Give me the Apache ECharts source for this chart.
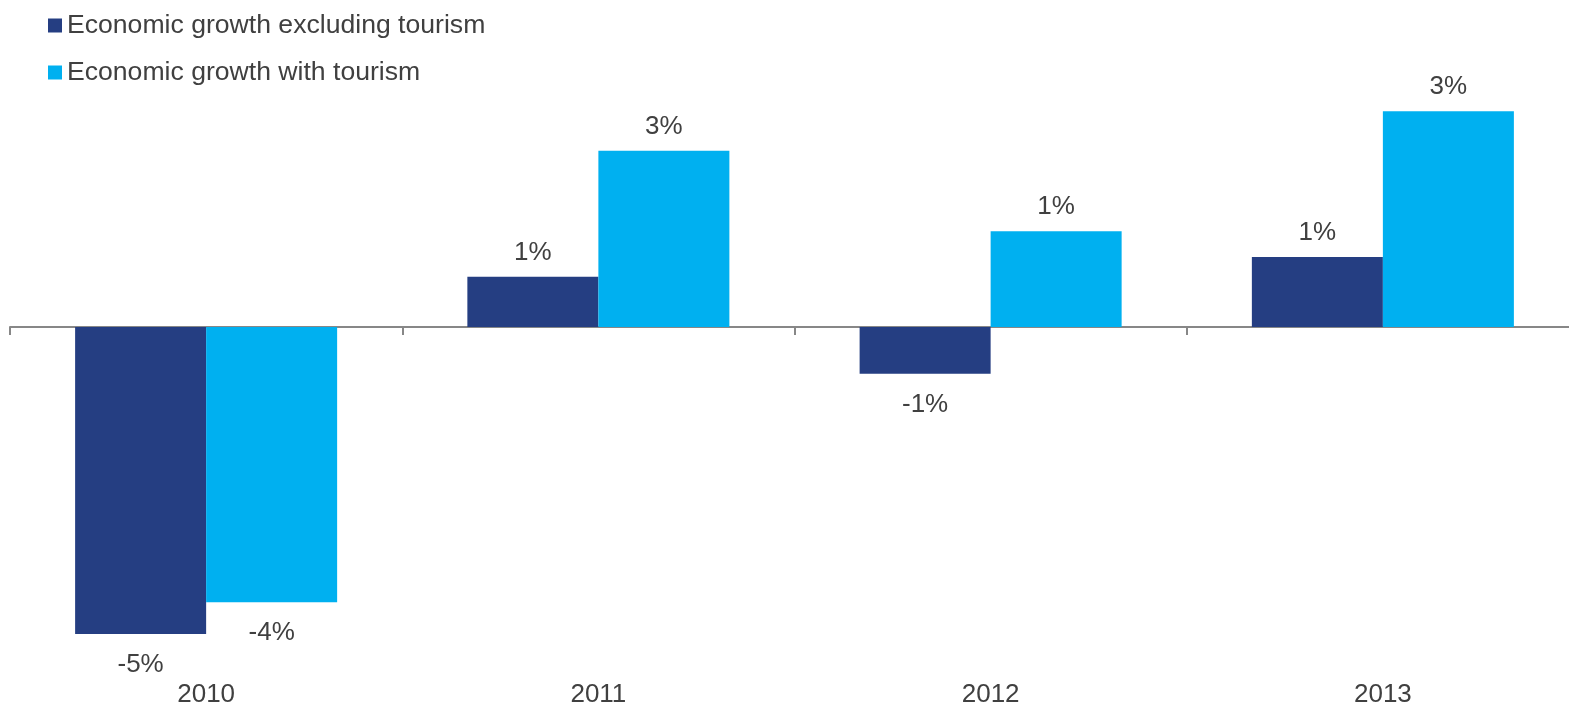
<!DOCTYPE html>
<html><head><meta charset="utf-8">
<script src="https://cdn.jsdelivr.net/npm/echarts@6/dist/echarts.min.js"></script>
<style>html,body{margin:0;padding:0;background:#fff}#c{width:1569px;height:709px}</style>
</head><body><div id="c"></div>
<script>
const categories = ['2010', '2011', '2012', '2013'];
const seriesNames = ['Economic growth excluding tourism', 'Economic growth with tourism'];
const excludingTourism = [-4.65, 0.76, -0.71, 1.06];
const withTourism = [-4.17, 2.67, 1.45, 3.27];

const FONT = 'Liberation Sans, Arial, sans-serif';
const TXT = '#404040';
function toData(arr) {
  return arr.map(v => ({
    value: v,
    label: v < 0 ? { position: 'bottom', distance: 18 } : { position: 'top', distance: 11 }
  }));
}
const chart = echarts.init(document.getElementById('c'), null, { renderer: 'canvas' });
chart.setOption({
  animation: false,
  color: ['#253E82', '#00B0F0'],
  textStyle: { fontFamily: FONT },
  legend: {
    orient: 'vertical', left: 43, top: 7,
    itemWidth: 14, itemHeight: 14, itemGap: 20,
    icon: 'rect',
    textStyle: { fontSize: 26.6, color: TXT, fontFamily: FONT },
    data: seriesNames
  },
  grid: { left: 10, width: 1569, top: 96, bottom: 52, containLabel: false, outerBoundsMode: 'none' },
  xAxis: [
    {
      type: 'category', data: categories, position: 'bottom',
      axisLine: { show: false, onZero: false }, axisTick: { show: false },
      axisLabel: { fontSize: 26, color: TXT, margin: 25, fontFamily: FONT }
    },
    {
      type: 'category', data: categories, position: 'top',
      axisLine: { onZero: true, lineStyle: { color: '#878787', width: 2 } },
      axisTick: { show: true, inside: true, length: 8, lineStyle: { color: '#878787', width: 2 } },
      axisLabel: { show: false }
    }
  ],
  yAxis: {
    type: 'value', min: -5, max: 3.5, show: false,
    splitLine: { show: false }
  },
  series: [
    {
      name: seriesNames[0], type: 'bar', data: toData(excludingTourism),
      barGap: '0%', barCategoryGap: '33.2%', z: 1,
      label: { show: true, fontSize: 26, color: TXT, fontFamily: FONT,
        formatter: p => Math.round(p.value) + '%' }
    },
    {
      name: seriesNames[1], type: 'bar', data: toData(withTourism),
      barGap: '0%', barCategoryGap: '33.2%', z: 1,
      label: { show: true, fontSize: 26, color: TXT, fontFamily: FONT,
        formatter: p => Math.round(p.value) + '%' }
    }
  ]
});
</script></body></html>
